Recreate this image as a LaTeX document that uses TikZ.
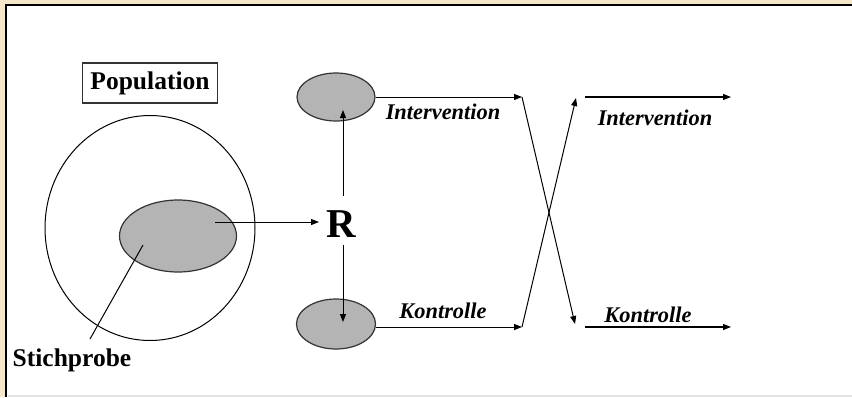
\documentclass[tikz,border=0pt]{standalone}
\usepackage{fontspec}
\setmainfont{Liberation Serif}
\usetikzlibrary{shapes.geometric,arrows.meta}
\definecolor{framebeige}{RGB}{246,231,203}
\definecolor{blobgray}{RGB}{180,180,180}
\tikzset{
  arr/.style={-{Stealth[length=8pt,width=6pt,inset=0pt]},line width=1pt},
  blob/.style={ellipse,draw=black!80,line width=1.2pt,fill=blobgray,inner sep=0pt},
  boldlab/.style={font=\fontsize{25.5}{29}\selectfont\bfseries,inner sep=1pt},
  armlab/.style={font=\fontsize{22.4}{26}\selectfont\bfseries\itshape,inner sep=1pt}
}
\begin{document}
\begin{tikzpicture}[x=1pt,y=-1pt]
    \useasboundingbox (0,0) rectangle (852,397);
    % frame of the screenshot
    \fill[framebeige] (0,0) rectangle (852,397);
    \fill[white] (6,6) rectangle (852,397);
    \draw[line width=2pt] (852,5) -- (6,5) -- (6,397);
    \draw[black!10,line width=1.5pt] (8,396) -- (852,396);
    % population and sample
    \node[draw=black!80,line width=1.2pt,boldlab,inner sep=5pt,minimum width=135pt,minimum height=40pt] (pop) at (150,83) {Population};
    \node[ellipse,draw,line width=1pt,minimum width=210pt,minimum height=225pt,inner sep=0pt] (popc) at (150,228) {};
    \node[blob,minimum width=117pt,minimum height=72pt] (samp) at (178,236) {};
    \node[boldlab] (stich) at (72,360) {Stichprobe};
    \coordinate (sp0) at (90,339);
    \coordinate (sp1) at (143,245);
    \draw[line width=1pt] (sp0) -- (sp1);
    % randomisation
    \node[font=\fontsize{41}{45}\selectfont\bfseries,inner sep=0pt] (R) at (341,224) {R};
    \coordinate (s0) at (215,222);
    \draw[arr] (s0) -- (319,222);
    \node[blob,minimum width=78pt,minimum height=48pt] (top) at (336,97) {};
    \node[blob,minimum width=79pt,minimum height=50pt] (bot) at (336,324) {};
    \coordinate (rt) at (343,110);
    \coordinate (rb) at (343,322);
    \draw[arr] (343,196) -- (rt);
    \draw[arr] (343,245) -- (rb);
    % first period
    \coordinate (i1) at (522,97);
    \coordinate (k1) at (522,327);
    \draw[arr] (top.east) -- (i1);
    \draw[arr] (bot.east |- k1) -- (k1);
    \node[armlab] (int1) at (443,112) {Intervention};
    \node[armlab] (kon1) at (443,311) {Kontrolle};
    % cross-over
    \coordinate (i2) at (576,98);
    \coordinate (k2) at (575,324);
    \draw[arr] (i1) -- (k2);
    \draw[arr] (k1) -- (i2);
    % second period
    \coordinate (i3) at (585,97);
    \coordinate (i4) at (731,97);
    \coordinate (k3) at (585,327);
    \coordinate (k4) at (731,327);
    \draw[arr,line width=1.3pt] (i3) -- (i4);
    \draw[arr,line width=1.3pt] (k3) -- (k4);
    \node[armlab] (int2) at (655,118) {Intervention};
    \node[armlab] (kon2) at (648,315) {Kontrolle};
\end{tikzpicture}
\end{document}
